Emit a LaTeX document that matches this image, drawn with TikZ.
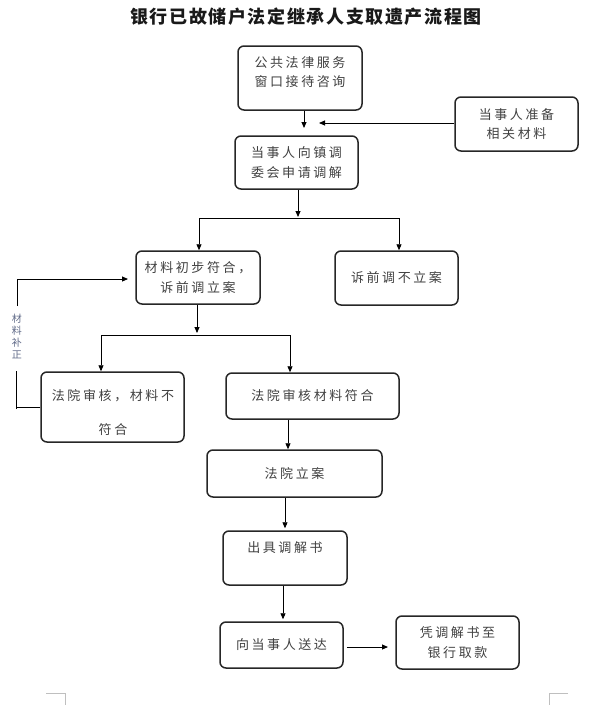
\documentclass[tikz,border=0pt]{standalone}
\usepackage{fontspec}
\setmainfont{Noto Sans CJK SC}
\newfontfamily\cjkbox[LetterSpace=20]{Noto Sans CJK SC}
\newfontfamily\cjktitle[LetterSpace=9]{Noto Sans CJK SC}
\usetikzlibrary{arrows.meta}
\newcommand\boxfont{\cjkbox\fontsize{13}{19.5}\selectfont}
\newcommand\mybox[6]{\node[box,minimum width={#4-#2},minimum height={#5-#3}] (#1) at ({(#2+#4)/2},{(#3+#5)/2}) {#6};}
\begin{document}
\begin{tikzpicture}[x=1pt,y=-1pt,
  box/.style={draw=black!85,line width=1.5pt,rounded corners=6pt,inner sep=0pt,align=center,font=\boxfont,text=black!75},
  boxtext/.style={inner sep=0pt,align=center,font=\boxfont,text=black!75},
  arr/.style={line width=0.9pt,-{Triangle[length=6pt,width=5pt]}},
  ln/.style={line width=0.9pt},
  pagemark/.style={draw=black!25,line width=0.8pt}]
\useasboundingbox (0,0) rectangle (600,705);

% title
\node[font=\cjktitle\bfseries\fontsize{18}{20}\selectfont,text=black!90] (title) at (306,17) {银行已故储户法定继承人支取遗产流程图};

% boxes
\mybox{b1}{238}{46}{362}{110}{}
\node[boxtext] (t1) at (300,72) {公共法律服务\\窗口接待咨询};
\mybox{b2}{455}{97}{578}{151}{当事人准备\\相关材料}
\mybox{b3}{235}{136}{358}{189}{当事人向镇调\\委会申请调解}
\mybox{b4}{136}{251}{260}{304}{材料初步符合，\\诉前调立案}
\mybox{b5}{335}{251}{458}{305}{诉前调不立案}
\mybox{b6}{41}{372}{184}{442}{}
\node[boxtext] (t6a) at (113,396) {法院审核，材料不};
\node[boxtext] (t6b) at (113,430) {符合};
\mybox{b7}{226}{373}{399}{419}{法院审核材料符合}
\mybox{b8}{207}{450}{382}{497}{法院立案}
\mybox{b9}{223}{531}{347}{585}{}
\node[boxtext] (t9) at (285,548) {出具调解书};
\mybox{b10}{220}{622}{343}{668}{向当事人送达}
\mybox{b11}{396}{616}{519}{669}{凭调解书至\\银行取款}

% connectors
\coordinate (c1) at (304,128);
\draw[arr] (b1.south -| c1) -- (c1);
\coordinate (c2) at (319,123);
\draw[arr] (b2.west |- c2) -- (c2);

\coordinate (c3) at (298,217);
\coordinate (c3l) at (199,218);
\coordinate (c3r) at (399,218);
\draw[arr] (b3.south -| c3) -- (c3);
\draw[ln] (c3l) -- (c3r);
\draw[arr] (c3l) -- (b4.north -| c3l);
\draw[arr] (c3r) -- (b5.north -| c3r);

\coordinate (c4) at (197,333);
\coordinate (c4l) at (101,335);
\coordinate (c4r) at (290,335);
\draw[arr] (b4.south -| c4) -- (c4);
\draw[ln] (c4l) -- (c4r);
\draw[arr] (c4l) -- (b6.north -| c4l);
\draw[arr] (c4r) -- (b7.north -| c4r);

\coordinate (c7) at (288,0);
\draw[arr] (b7.south -| c7) -- (b8.north -| c7);
\coordinate (c8) at (285,0);
\draw[arr] (b8.south -| c8) -- ([yshift=2pt]b9.north -| c8);
\coordinate (c9) at (283,0);
\draw[arr] (b9.south -| c9) -- ([yshift=2pt]b10.north -| c9);
\coordinate (c10) at (388,647);
\draw[arr] ([xshift=3pt]b10.east |- c10) -- (c10);

% feedback loop
\coordinate (f1) at (16,407);
\coordinate (f2) at (16,371);
\coordinate (f3) at (17,306);
\coordinate (f4) at (17,279);
\coordinate (f5) at (128,279);
\draw[ln] (b6.west) -- (f1);
\draw[ln] ([yshift=-2pt]f1) -- (f2);
\draw[arr] (f3) -- (f4) -- (f5);
\node[inner sep=0pt,align=center,text={rgb,255:red,95;green,105;blue,135},font=\fontsize{10}{12}\selectfont] (fb) at (17,336) {材\\料\\补\\正};

% page corner marks
\draw[pagemark] (46,693) -- (65,693) -- (65,705);
\draw[pagemark] (568,693) -- (549,693) -- (549,705);
\end{tikzpicture}
\end{document}
